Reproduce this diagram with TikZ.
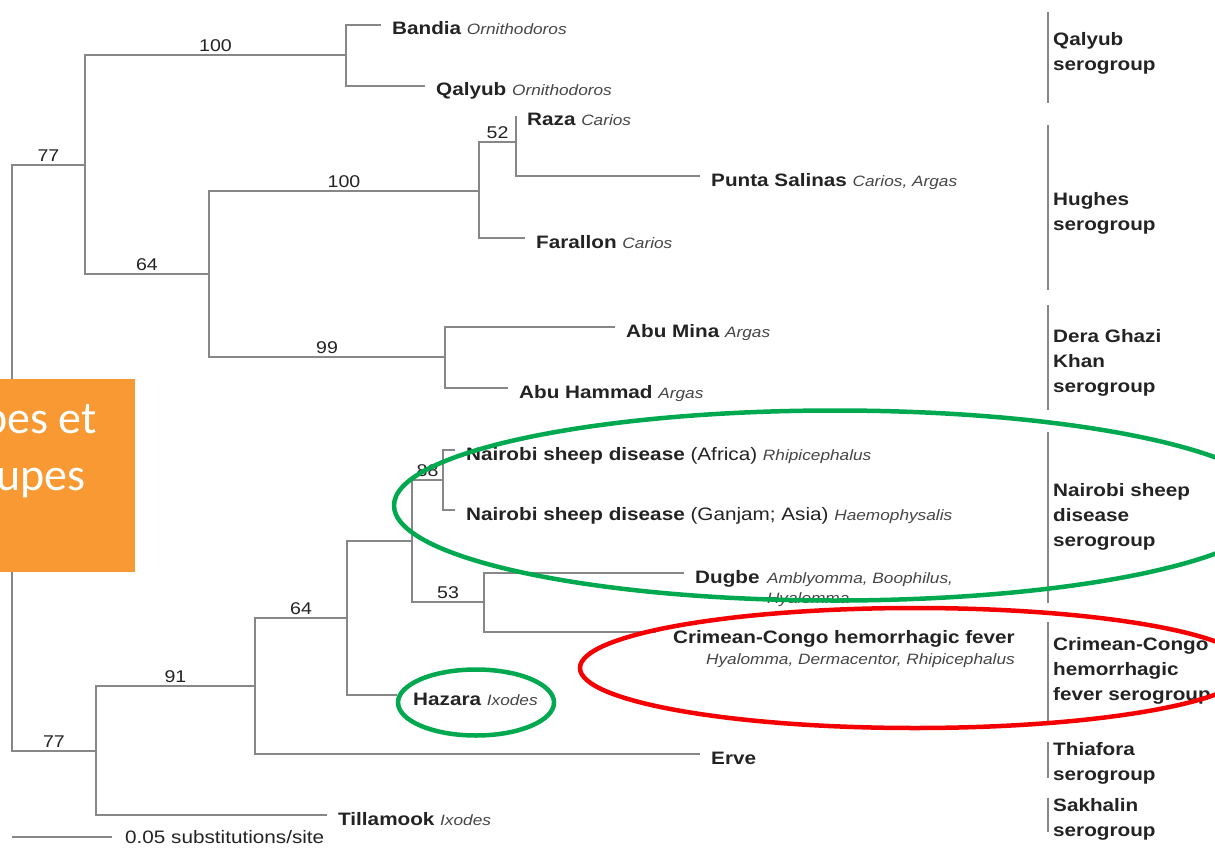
\documentclass[tikz,border=0pt]{standalone}
\usepackage{fontspec}
\setmainfont{Liberation Sans}[FakeStretch=1.15]
\newfontfamily\slidefont{Carlito}
\usepackage{xcolor}
\usepackage{tikz}
\usetikzlibrary{positioning}
\definecolor{treegray}{RGB}{135,135,135}
\definecolor{ink}{RGB}{35,35,35}
\definecolor{hostink}{RGB}{70,70,70}
\definecolor{ringgreen}{RGB}{0,168,80}
\definecolor{ringred}{RGB}{245,0,0}
\definecolor{slideorange}{RGB}{248,153,51}
\newcommand\namesize{\fontsize{18}{22}\selectfont}
\newcommand\hostsize{\fontsize{15}{18}\selectfont}
\newcommand\bootsize{\fontsize{17}{20}\selectfont}
\newcommand\grpsize{\fontsize{18}{25}\selectfont}
\newcommand\host[1]{{\mdseries\itshape\hostsize\color{hostink}#1}}

\begin{document}
\begin{tikzpicture}[
  x=1pt, y=-1pt,
  br/.style={draw=treegray, line width=1.2pt},
  boot/.style={pos=.75, above=3pt, inner sep=0pt, font=\bootsize, text=ink},
  leaf/.style={anchor=base west, inner sep=0pt, xshift=11pt, yshift=-10pt, font=\namesize\bfseries, text=ink},
  hostnote/.style={anchor=base west, inner sep=0pt},
  grp/.style={anchor=north west, align=left, inner sep=0pt, font=\grpsize\bfseries, text=ink},
  ring/.style={line width=4.5pt}
]
\fill[white] (0,0) rectangle (1215,848);
\useasboundingbox (0,0) rectangle (1215,848);

\coordinate (root) at (12,458);
\coordinate (n77a) at (85,165);
\coordinate (n100a) at (346,55);
\coordinate (bandia) at (381,25);
\coordinate (qalyub) at (425,86);
\coordinate (n64a) at (209,274);
\coordinate (n100b) at (479,191);
\coordinate (n52) at (516,142);
\coordinate (raza) at (516,116);
\coordinate (punta) at (700,176);
\coordinate (farallon) at (525,238);
\coordinate (n99) at (445,357);
\coordinate (abumina) at (615,327);
\coordinate (abuhammad) at (508,388);
\coordinate (n77b) at (96,751);
\coordinate (n91) at (255,686);
\coordinate (n64b) at (347,618);
\coordinate (nnsd) at (412,541);
\coordinate (n88) at (443,480);
\coordinate (nsdaf) at (455,450);
\coordinate (nsdas) at (455,510);
\coordinate (n53) at (484,602);
\coordinate (dugbe) at (684,573);
\coordinate (cchf) at (656,632);
\coordinate (hazara) at (397,695);
\coordinate (erve) at (700,754);
\coordinate (tillamook) at (327,815);

\draw[br] (root) |- node[boot]{77} (n77a);
\draw[br] (root) |- node[boot]{77} (n77b);
\draw[br] (n77a) |- node[boot]{100} (n100a);
\draw[br] (n77a) |- node[boot]{64} (n64a);
\draw[br] (n100a) |- (bandia);
\draw[br] (n100a) |- (qalyub);
\draw[br] (n64a) |- node[boot]{100} (n100b);
\draw[br] (n64a) |- node[boot]{99} (n99);
\draw[br] (n100b) |- node[boot]{52} (n52);
\draw[br] (n100b) |- (farallon);
\draw[br] (n52) |- (raza);
\draw[br] (n52) |- (punta);
\draw[br] (n99) |- (abumina);
\draw[br] (n99) |- (abuhammad);
\draw[br] (n77b) |- node[boot]{91} (n91);
\draw[br] (n77b) |- (tillamook);
\draw[br] (n91) |- node[boot]{64} (n64b);
\draw[br] (n91) |- (erve);
\draw[br] (n64b) |- (nnsd);
\draw[br] (n64b) |- (hazara);
\draw[br] (nnsd) |- node[boot]{88} (n88);
\draw[br] (nnsd) |- node[boot]{53} (n53);
\draw[br] (n88) |- (nsdaf);
\draw[br] (n88) |- (nsdas);
\draw[br] (n53) |- (dugbe);
\draw[br] (n53) |- (cchf);

\node[leaf] (lbandia) at (bandia) {Bandia \host{Ornithodoros}};
\node[leaf] (lqalyub) at (qalyub) {Qalyub \host{Ornithodoros}};
\node[leaf] (lraza) at (raza) {Raza \host{Carios}};
\node[leaf] (lpunta) at (punta) {Punta Salinas \host{Carios, Argas}};
\node[leaf] (lfarallon) at (farallon) {Farallon \host{Carios}};
\node[leaf] (labumina) at (abumina) {Abu Mina \host{Argas}};
\node[leaf] (labuhammad) at (abuhammad) {Abu Hammad \host{Argas}};
\node[leaf] (lnsdaf) at (nsdaf) {Nairobi sheep disease {\mdseries (Africa)} \host{Rhipicephalus}};
\node[leaf] (lnsdas) at (nsdas) {Nairobi sheep disease {\mdseries (Ganjam; Asia)} \host{Haemophysalis}};
\node[leaf] (ldugbe) at (dugbe) {Dugbe};
\node[hostnote, right=7pt of ldugbe.base east, anchor=base west] (hdugbe) {\host{Amblyomma, Boophilus,}};
\node[hostnote, below=20pt of hdugbe.base west, anchor=base west] (hdugbe2) {\host{Hyalomma}};
\node[leaf, xshift=6pt, yshift=-1pt] (lcchf) at (cchf) {Crimean-Congo hemorrhagic fever};
\node[hostnote, below=21pt of lcchf.base east, anchor=base east] (hcchf) {\host{Hyalomma, Dermacentor, Rhipicephalus}};
\node[leaf, xshift=5pt] (lhazara) at (hazara) {Hazara \host{Ixodes}};
\node[leaf] (lerve) at (erve) {Erve};
\node[leaf] (ltillamook) at (tillamook) {Tillamook \host{Ixodes}};

\coordinate (sb0) at (12,837);
\coordinate (sb1) at (112,837);
\draw[br] (sb0) -- (sb1);
\node[anchor=base west, inner sep=0pt, xshift=13pt, yshift=-6pt, font=\namesize, text=ink] (lscale) at (sb1) {0.05 substitutions/site};

\foreach \ya/\yb in {12/103, 125/290, 305/410, 432/603, 622/722, 742/778, 798/832}
  \draw[br] (1048,\ya) -- (1048,\yb);
\node[grp] (gqalyub) at (1053,32) {Qalyub\\serogroup};
\node[grp] (ghughes) at (1053,192) {Hughes\\serogroup};
\node[grp] (gdera) at (1053,329) {Dera Ghazi\\Khan\\serogroup};
\node[grp] (gnsd) at (1053,483) {Nairobi sheep\\disease\\serogroup};
\node[grp] (gcchf) at (1053,637) {Crimean-Congo\\hemorrhagic\\fever serogroup};
\node[grp] (gthiafora) at (1053,742) {Thiafora\\serogroup};
\node[grp] (gsakhalin) at (1053,798) {Sakhalin\\serogroup};

\node[fill=slideorange, anchor=north west, inner sep=0pt, minimum width=135pt, minimum height=193pt] (orangebox) at (0,379) {};
\begin{scope}
  \clip (orangebox.south west) rectangle (orangebox.north east);
  \node[anchor=base east, inner sep=0pt, font=\slidefont\fontsize{46}{56}\selectfont, text=white] (tsero1) at (97,433) {pes et};
  \node[anchor=base east, inner sep=0pt, font=\slidefont\fontsize{46}{56}\selectfont, text=white] (tsero2) at (86,490) {upes};
\end{scope}

\draw[ring, ringgreen] (835,505.5) ellipse [x radius=441, y radius=95];
\draw[ring, ringred] (915,668) ellipse [x radius=335, y radius=60];
\draw[ring, ringgreen] (476,702.5) ellipse [x radius=78, y radius=33];
\end{tikzpicture}
\end{document}
